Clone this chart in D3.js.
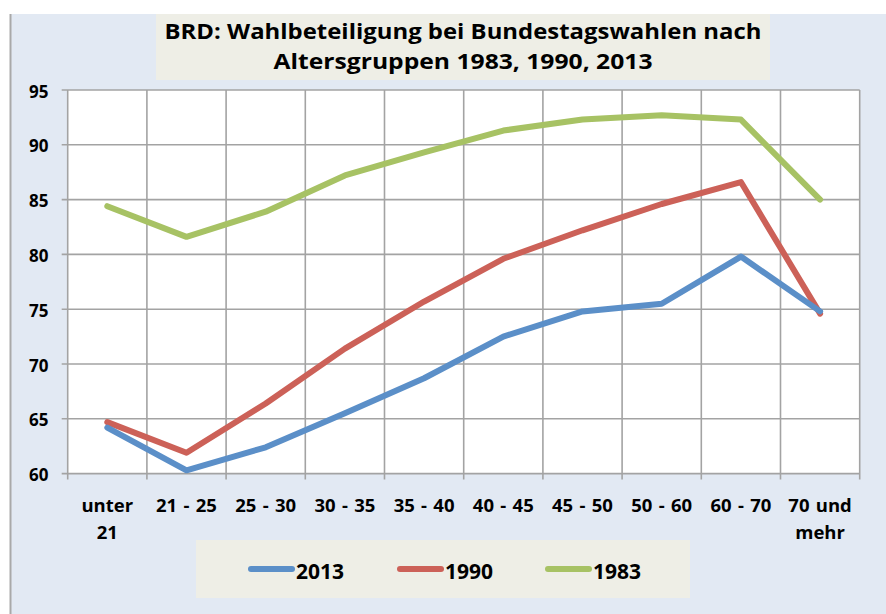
<!DOCTYPE html>
<html><head><meta charset="utf-8">
<script src="https://cdn.jsdelivr.net/npm/d3@7"></script>
<style>body{margin:0;background:#fff}svg{display:block}text{font-family:"Open Sans",Lato,sans-serif;font-weight:bold;fill:#000}</style>
</head><body>
<script>
const categories = ["unter 21","21 - 25","25 - 30","30 - 35","35 - 40","40 - 45","45 - 50","50 - 60","60 - 70","70 und mehr"];
const labelLines = [["unter","21"],["21 - 25"],["25 - 30"],["30 - 35"],["35 - 40"],["40 - 45"],["45 - 50"],["50 - 60"],["60 - 70"],["70 und","mehr"]];
const v2013 = [64.2, 60.3, 62.4, 65.5, 68.7, 72.5, 74.8, 75.5, 79.8, 74.8];
const v1990 = [64.7, 61.9, 66.4, 71.4, 75.7, 79.6, 82.2, 84.6, 86.6, 74.6];
const v1983 = [84.4, 81.6, 83.9, 87.2, 89.3, 91.3, 92.3, 92.7, 92.3, 85.0];
const yTicks = [60, 65, 70, 75, 80, 85, 90, 95];
const seriesNames = ["2013","1990","1983"];
const titleLines = ["BRD: Wahlbeteiligung bei Bundestagswahlen nach","Altersgruppen 1983, 1990, 2013"];

const W = 886, H = 614;
const colors = {"2013":"#5b8fc8","1990":"#cc6158","1983":"#a7c264"};
const svg = d3.select("body").append("svg").attr("width", W).attr("height", H);

// chart area background
svg.append("rect").attr("x",10).attr("y",14).attr("width",W-10).attr("height",H-14).attr("fill","#e2e9f3");
svg.append("line").attr("x1",10.5).attr("x2",10.5).attr("y1",14).attr("y2",H).attr("stroke","#a9a9a9").attr("stroke-width",2);

// title
svg.append("rect").attr("x",156).attr("y",14).attr("width",614).attr("height",66).attr("fill","#eeeee6");
const tl = [{t:titleLines[0], y:38.5, w:597},{t:titleLines[1], y:68.5, w:379}];
tl.forEach(d=>{
  svg.append("text").attr("x",463).attr("y",d.y).attr("text-anchor","middle")
    .attr("font-size",21).attr("textLength",d.w).attr("lengthAdjust","spacingAndGlyphs").text(d.t);
});

const L = 67.7, R = 859.7, T = 90, B = 473.6;
const x = d3.scaleBand().domain(categories).range([L,R]).padding(0);
const y = d3.scaleLinear().domain([60,95]).range([B,T]);

svg.append("rect").attr("x",L).attr("y",T).attr("width",R-L).attr("height",B-T).attr("fill","#fff");

const grid = svg.append("g").attr("stroke","#a3a3a3").attr("stroke-width",1.6);
yTicks.forEach(t=>{
  grid.append("line").attr("x1",L-6).attr("x2",R).attr("y1",y(t)).attr("y2",y(t));
});
const bounds = categories.map(c=>x(c)).concat([R]);
bounds.forEach(b=>{
  grid.append("line").attr("x1",b).attr("x2",b).attr("y1",T).attr("y2",B+6);
});

// y labels
yTicks.forEach(t=>{
  svg.append("text").attr("x",48.5).attr("y",y(t)+7.5).attr("text-anchor","end").attr("font-size",17).text(t);
});
// x labels
categories.forEach((c,i)=>{
  const cx = x(c)+x.bandwidth()/2;
  labelLines[i].forEach((ln,j)=>{
    svg.append("text").attr("x",cx).attr("y",511.5+j*27).attr("text-anchor","middle")
      .attr("font-size",18.5).attr("word-spacing",1.5).text(ln);
  });
});

const line = d3.line().x((d,i)=>x(categories[i])+x.bandwidth()/2).y(d=>y(d));
const data = {"2013":v2013,"1990":v1990,"1983":v1983};
["1983","1990","2013"].forEach(s=>{
  svg.append("path").datum(data[s]).attr("d",line).attr("fill","none")
    .attr("stroke",colors[s]).attr("stroke-width",6).attr("stroke-linejoin","round").attr("stroke-linecap","round");
});

// legend
svg.append("rect").attr("x",196).attr("y",540).attr("width",494).attr("height",58).attr("fill","#eeeee6");
const legX = [248, 397, 545];
seriesNames.forEach((s,i)=>{
  svg.append("line").attr("x1",legX[i]+3).attr("x2",legX[i]+44).attr("y1",569).attr("y2",569)
    .attr("stroke",colors[s]).attr("stroke-width",6).attr("stroke-linecap","round");
  svg.append("text").attr("x",legX[i]+48).attr("y",578.5).attr("font-size",21).text(s);
});
</script>
</body></html>
